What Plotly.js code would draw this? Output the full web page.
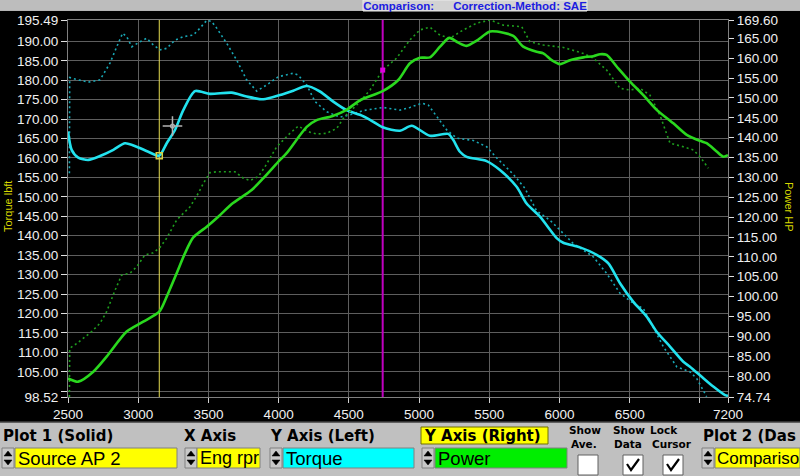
<!DOCTYPE html>
<html><head><meta charset="utf-8">
<script src="https://cdn.plot.ly/plotly-3.0.1.min.js"></script>
<style>html,body{margin:0;padding:0;background:#000;overflow:hidden}#chart{width:800px;height:476px}</style>
</head><body><div id="chart"></div>
<script>
// ---- data ----
const torqueRpm   = [2500,2526,2573,2645,2728,2823,2906,2989,3072,3150,3203,3262,3321,3404,3511,3666,3772,3891,4010,4104,4200,4294,4389,4484,4579,4651,4741,4864,4947,5078,5208,5244,5291,5339,5481,5576,5695,5766,5861,5980,6027,6146,6265,6348,6431,6526,6621,6692,6787,6882,6929,7013,7095,7179,7200];
const torqueSolid = [166.8,162.1,160.1,159.5,160.5,162.1,163.8,162.9,161.6,160.6,163.8,167.2,172.3,177.2,176.5,176.8,175.8,175.1,176.2,177.3,178.5,177.1,174.5,172.3,171.1,169.8,167.9,167.0,168.3,165.7,166.2,164.6,161.6,160.3,159.2,156.9,152.6,148.3,144.9,139.4,138.2,137.0,135.1,132.9,127.8,123.0,119.2,115.3,111.5,107.6,106.3,103.7,101.2,99.0,98.8];

const torqueCmpRpm = [2510,2512,2562,2645,2728,2799,2847,2889,2918,2954,3013,3060,3107,3155,3203,3262,3321,3392,3440,3488,3523,3559,3630,3701,3772,3844,3915,3998,4104,4140,4200,4259,4342,4437,4508,4603,4745,4864,4935,5019,5066,5126,5197,5268,5386,5481,5553,5671,5754,5837,5932,5980,6098,6240,6336,6431,6526,6597,6668,6739,6835,6929,6977,7048];
const torqueCmp    = [156.1,180.7,180.2,179.5,180.1,184.4,188.6,192.1,191.2,188.6,189.9,190.8,189.1,187.8,188.2,190.3,191.2,191.6,193.4,195.4,195.1,193.4,189.5,185.2,180.1,177.2,178.8,180.9,181.8,181.3,178.8,174.5,171.9,170.5,171.1,172.2,173.0,172.3,173.0,174.1,173.6,170.6,167.2,165.1,164.5,162.9,160.0,155.8,152.2,146.4,144.0,142.3,138.0,134.6,130.3,125.2,122.6,121.3,116.6,111.5,106.3,105.0,103.3,98.6];

const powerRpm   = [2500,2573,2680,2775,2918,3036,3150,3203,3274,3333,3392,3488,3570,3666,3808,3891,4010,4057,4200,4271,4380,4484,4579,4741,4852,4935,5006,5078,5149,5215,5279,5339,5410,5505,5600,5671,5742,5837,5885,5944,6004,6075,6170,6241,6289,6336,6407,6502,6597,6692,6811,6906,7001,7048,7119,7167,7200];
const powerSolid = [79.4,78.6,81.1,84.9,91.2,93.7,96.2,100.0,105.9,110.9,114.9,117.6,120.1,123.3,126.8,129.8,134.4,136.1,142.7,144.4,145.4,147.0,149.4,151.7,154.5,158.7,160.1,160.2,162.9,165.1,163.9,163.1,164.4,166.7,166.4,165.6,162.9,161.6,161.2,159.5,158.5,159.5,160.2,160.5,161.0,160.8,157.9,154.1,150.7,147.0,143.6,140.7,139.2,138.6,136.5,135.2,135.6];

const powerCmpRpm = [2510,2512,2562,2669,2728,2775,2835,2882,2942,2989,3048,3107,3155,3203,3274,3369,3428,3464,3511,3559,3689,3748,3796,3855,3903,3986,4081,4140,4211,4271,4342,4413,4470,4556,4651,4741,4840,4935,5006,5078,5149,5220,5315,5410,5505,5600,5671,5731,5790,5885,6027,6170,6241,6336,6431,6502,6573,6644,6715,6787,6882,6953,7001,7060];
const powerCmp    = [74.74,87.0,88.2,91.2,93.3,96.2,101.6,105.4,105.9,107.5,110.5,111.0,112.4,114.7,119.3,122.6,126.0,128.5,131.2,131.4,131.4,129.8,129.2,130.2,132.7,137.7,141.1,142.9,141.5,140.9,141.1,142.3,145.3,148.2,152.0,157.0,160.0,164.6,167.1,167.8,165.8,165.0,167.1,168.8,169.6,168.3,168.1,167.9,164.1,163.3,162.7,161.2,160.0,157.0,152.4,152.0,152.4,150.7,145.7,138.6,137.7,136.9,135.2,132.3];

const cursorRpm = [3150, 4741];
const cursorTorque = [160.6];
const cursorPower = [157.0];
const mouseRpm = [3244], mouseTorque = [168.2];

const xTicks = [2500,3000,3500,4000,4500,5000,5500,6000,6500,7000,7200];
const xTickText = ['2500','3000','3500','4000','4500','5000','5500','6000','6500','','7200'];
const yLeftRange = [98.52, 195.49];
const yLeftTicks = [98.52,100,105,110,115,120,125,130,135,140,145,150,155,160,165,170,175,180,185,190,195.49];
const yLeftText  = ['98.52','','105.00','110.00','115.00','120.00','125.00','130.00','135.00','140.00','145.00','150.00','155.00','160.00','165.00','170.00','175.00','180.00','185.00','190.00','195.49'];
const yRightRange = [74.74, 169.60];
const yRightTicks = [74.74,80,85,90,95,100,105,110,115,120,125,130,135,140,145,150,155,160,165,169.60];
const yRightText  = ['74.74','80.00','85.00','90.00','95.00','100.00','105.00','110.00','115.00','120.00','125.00','130.00','135.00','140.00','145.00','150.00','155.00','160.00','165.00','169.60'];

// ---- layout helpers (pixel -> paper) ----
const L=68, R=728, T=20, B=397;
const px = p => (p-L)/(R-L);
const py = p => (B-p)/(B-T);
const shapes = [], ann = [];
function rect(x0,y0,x1,y1,fill,line,lw){
  shapes.push({type:'rect',xref:'paper',yref:'paper',x0:px(x0),x1:px(x1),y0:py(y1),y1:py(y0),
    fillcolor:fill,line:{color:line||fill,width:(lw===undefined?1:lw)},layer:'above'});
}
function path(pts,fill,line,lw){
  const d='M'+pts.map(p=>px(p[0])+','+py(p[1])).join('L')+(fill?'Z':'');
  shapes.push({type:'path',xref:'paper',yref:'paper',path:d,fillcolor:fill||'rgba(0,0,0,0)',line:{color:line,width:lw},layer:'above'});
}
function text(t,x,y,size,opts){
  opts=opts||{};
  ann.push({text:t,xref:'paper',yref:'paper',x:px(x),y:py(y),xanchor:opts.anchor||'left',yanchor:'middle',showarrow:false,
    textangle:opts.angle||0,borderpad:0,
    font:{family:opts.family||'Liberation Sans, Arial, sans-serif',size:size,color:opts.color||'#000',weight:opts.bold?'bold':'normal'}});
}
function spinner(x){
  rect(x,448,x+12,468,'#c8c8c8','#808080',1);
  path([[x+2,456],[x+10,456],[x+6,451]],'#000','#000',0.5);
  path([[x+2,460],[x+10,460],[x+6,465]],'#000','#000',0.5);
}

// top strip
rect(0,0,800,11,'#b4b4b4',null,0);
for (let y=1;y<11;y+=2) path([[0,y],[800,y]],null,'#c6c6c6',1);
rect(363,0,587,11,'#d2d2d2','#ececec',1);

// bottom control panel
rect(0,422,800,476,'#c0c0c0',null,0);
path([[0,422],[800,422]],null,'#404040',1.5);
const bold='DejaVu Sans, Verdana, sans-serif';
text('Plot 1 (Solid)',2,436,15,{bold:true,family:bold});
text('X Axis',183,436,15,{bold:true,family:bold});
text('Y Axis (Left)',269,436,15,{bold:true,family:bold});
rect(421,427,548,444,'#ffff00','#707000',1);
text('Y Axis (Right)',423,436,15,{bold:true,family:bold});
text('Show',568,430,10.5,{bold:true,family:bold});
text('Ave.',570,443.5,10.5,{bold:true,family:bold});
text('Show',612,430,10.5,{bold:true,family:bold});
text('Data',613,443.5,10.5,{bold:true,family:bold});
text('Lock',649,430,10.5,{bold:true,family:bold});
text('Cursor',651,443.5,10.5,{bold:true,family:bold});
text('Plot 2 (Das',702,436,15,{bold:true,family:bold});

spinner(2);   rect(15,448,177,468,'#ffff00','#808080',1);  text('Source AP 2',17,458,18.5);
spinner(185); rect(197,448,260,468,'#ffff00','#808080',1); text('Eng rpr',199,458,18);
spinner(270); rect(283,448,414,468,'#00ffff','#808080',1); text('Torque',285,458,18.5);
spinner(422); rect(435,448,567,468,'#00ee00','#808080',1); text('Power',437,458,18.5);
spinner(702); rect(715,448,800,468,'#ffff00','#808080',1); text('Compariso',716,458,17);
rect(578,455,598,475,'#ffffff','#606060',1);
rect(623,455,643,475,'#ffffff','#606060',1);
rect(663,455,683,475,'#ffffff','#606060',1);
path([[627,464],[631,470],[639,459]],null,'#000',2.2);
path([[667,464],[671,470],[679,459]],null,'#000',2.2);

// axis side titles
text('Torque lbft',8,207,11,{angle:-90,anchor:'center',color:'#d8d800'});
text('Power HP',789,207,11,{angle:90,anchor:'center',color:'#d8d800'});

const tickFont = {family:'Liberation Sans, Arial, sans-serif', size:13.5, color:'#f0f0f0'};
const grid = '#5e5e5e';

const traces = [
  {x:[cursorRpm[0],cursorRpm[0]], y:yLeftRange, mode:'lines', line:{color:'#e6dc50',width:1}, hoverinfo:'skip'},
  {x:[cursorRpm[1],cursorRpm[1]], y:yLeftRange, mode:'lines', line:{color:'#c000c0',width:2}, hoverinfo:'skip'},
  {x:torqueCmpRpm, y:torqueCmp, mode:'lines', name:'Torque (comparison)', line:{color:'#18a8b6',width:1.6,dash:'2px,3px'}},
  {x:powerCmpRpm, y:powerCmp, yaxis:'y2', mode:'lines', name:'Power (comparison)', line:{color:'#1e9e1e',width:1.6,dash:'2px,3px'}},
  {x:torqueRpm, y:torqueSolid, mode:'lines', name:'Torque', line:{color:'#22e2ee',width:2.6,shape:'spline',smoothing:0.7}},
  {x:powerRpm, y:powerSolid, yaxis:'y2', mode:'lines', name:'Power', line:{color:'#2ad81e',width:2.6,shape:'spline',smoothing:0.7}},
  {x:[cursorRpm[0]], y:cursorTorque, mode:'markers', marker:{symbol:'square-open',size:6,color:'#d8d040',line:{width:1.5}}},
  {x:[cursorRpm[1]], y:cursorPower, yaxis:'y2', mode:'markers', marker:{symbol:'square',size:5,color:'#e000e0'}},
  {x:mouseRpm, y:mouseTorque, mode:'markers', marker:{symbol:'cross-thin-open',size:14,color:'#b4b4b4',line:{width:1.5,color:'#b4b4b4'}}},
  {x:mouseRpm, y:mouseTorque, mode:'markers', marker:{symbol:'circle-open',size:4,color:'#b4b4b4',line:{width:1.2,color:'#b4b4b4'}}}
];

const layout = {
  width:800, height:476,
  margin:{l:L, r:800-R, t:T, b:476-B, pad:0},
  paper_bgcolor:'#000', plot_bgcolor:'#000',
  showlegend:false,
  title:{text:'Comparison:&nbsp;&nbsp;&nbsp;&nbsp;&nbsp;&nbsp;Correction-Method: SAE', x:475/800, xanchor:'center', xref:'container', yref:'container', y:1-5.5/476, yanchor:'middle',
    font:{family:'Liberation Sans, Arial, sans-serif', size:11.5, color:'#1c1ce0', weight:'bold'}},
  xaxis:{range:[2500,7200], tickmode:'array', tickvals:xTicks, ticktext:xTickText, tickangle:0, showgrid:true, gridcolor:grid, gridwidth:1,
    zeroline:false, showline:true, linecolor:'#808080', linewidth:1, mirror:true, ticks:'outside', ticklen:5, tickcolor:'#d0d0d0', tickfont:tickFont},
  yaxis:{range:yLeftRange, tickmode:'array', tickvals:yLeftTicks, ticktext:yLeftText, showgrid:true, gridcolor:grid, gridwidth:1,
    zeroline:false, showline:true, linecolor:'#808080', ticks:'outside', ticklen:6, tickcolor:'#e0e0e0', tickfont:tickFont},
  yaxis2:{range:yRightRange, overlaying:'y', side:'right', tickmode:'array', tickvals:yRightTicks, ticktext:yRightText, showgrid:false,
    zeroline:false, showline:true, linecolor:'#808080', ticks:'outside', ticklen:5, tickcolor:'#e0e0e0', tickfont:tickFont},
  shapes:shapes, annotations:ann
};
Plotly.newPlot('chart', traces, layout, {staticPlot:true, displayModeBar:false});
</script></body></html>
